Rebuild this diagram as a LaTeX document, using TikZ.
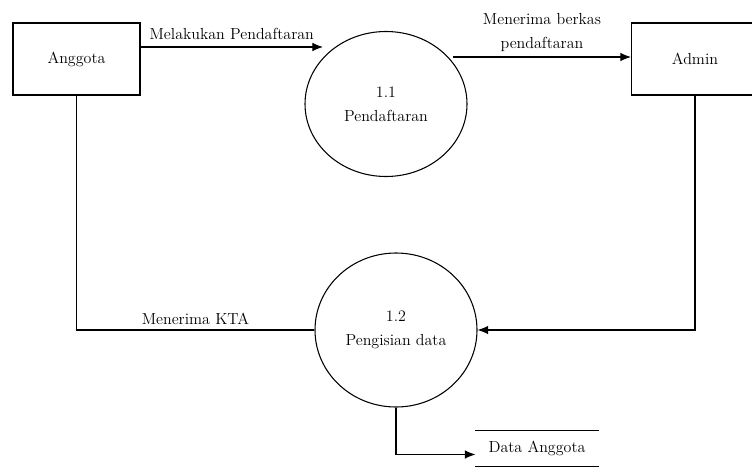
\documentclass[tikz,border=0pt]{standalone}
\usetikzlibrary{shapes.geometric,arrows.meta}

\begin{document}
\begin{tikzpicture}[x=0.75pt,y=-0.75pt,line width=0.8pt,font=\fontsize{12}{18}\selectfont]
	\tikzstyle{kotak}=[draw,rectangle,minimum width=95.25pt,minimum height=54pt];
	\tikzstyle{proses}=[draw,ellipse,inner sep=0pt,align=center,minimum width=121.5pt];
	\tikzstyle{alir}=[-{Latex[length=8pt,width=6.5pt]}];
	\useasboundingbox (0,0) rectangle (752,467);

	\node[kotak] (anggota) at (76.5,59) {Anggota};
	\node[kotak] (admin) at (695,59) {Admin};
	\node[proses,minimum height=108.75pt] (p11) at (386,104) {1.1\\Pendaftaran};
	\node[proses,minimum height=115.5pt] (p12) at (396,330) {1.2\\Pengisian data};
	\node[minimum width=91.5pt,minimum height=26.25pt] (data) at (537,448.5) {Data Anggota};
	\draw (data.north west) -- (data.north east) (data.south west) -- (data.south east);

	\coordinate (m1) at (323,47);
	\coordinate (k1) at (453,57);
	\draw[alir] (anggota.east |- m1) -- node[above=2pt]{Melakukan Pendaftaran} (m1);
	\draw[alir] (k1) -- node[above,align=center]{Menerima berkas\\pendaftaran} (admin.west |- k1);
	\draw[alir] (admin.south) |- (p12.east);
	\draw (anggota.south) |- node[pos=0.75,above]{Menerima KTA} (p12.west);
	\draw[alir] (p12.south) |- ([yshift=-4.5pt]data.west);
\end{tikzpicture}
\end{document}
